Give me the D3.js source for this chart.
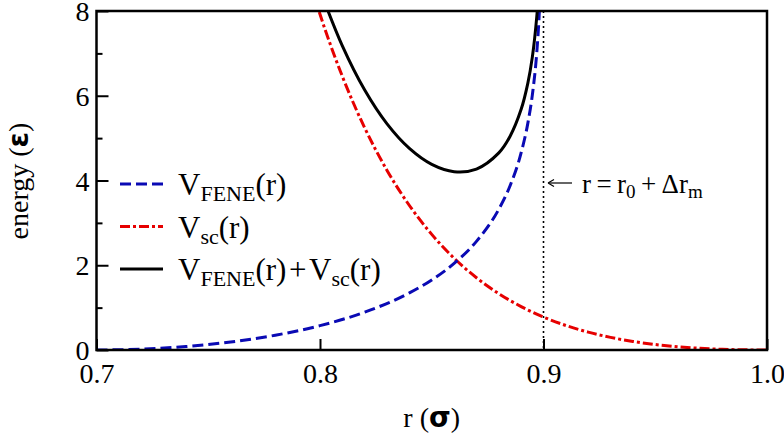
<!DOCTYPE html>
<html><head><meta charset="utf-8">
<script src="https://cdn.jsdelivr.net/npm/d3@7"></script>
<style>
body{margin:0;background:#fff;}
</style></head>
<body>
<svg id="chart" width="784" height="435"></svg>
<script>
// ---- data ----
const rFene = [0.70,0.72,0.74,0.76,0.78,0.80,0.82,0.84,0.85,0.86,0.87,0.88,0.885,0.89,0.893,0.895,0.897,0.898,0.8985];
const vFene = [0,0.020,0.082,0.189,0.349,0.575,0.893,1.347,1.653,2.043,2.564,3.322,3.871,4.656,5.354,6.016,7.028,7.834,8.406];
const rSc = [0.79,0.80,0.81,0.82,0.83,0.84,0.85,0.86,0.87,0.88,0.89,0.90,0.91,0.92,0.93,0.94,0.95,0.96,0.97,0.98,0.99,1.00];
const vSc = [9.697,7.922,6.456,5.242,4.238,3.410,2.728,2.166,1.706,1.330,1.025,0.777,0.579,0.422,0.298,0.202,0.130,0.077,0.040,0.017,0.004,0];
const rSum = [0.80,0.81,0.82,0.83,0.84,0.85,0.86,0.87,0.88,0.885,0.89,0.893,0.895,0.897,0.898];
const vSum = [8.497,7.177,6.135,5.336,4.757,4.381,4.209,4.270,4.652,5.040,5.680,6.299,6.911,7.874,8.656];
const xTicks = [0.7,0.8,0.9,1.0];
const xTickLabels = ["0.7","0.8","0.9","1.0"];
const yTicks = [0,2,4,6,8];
const yMinorTicks = [1,3,5,7];
const rMax = 0.9; // r = r0 + Δr_m
const xDomain = [0.7,1.0];
const yDomain = [0,8];

// ---- layout ----
const SERIF = "'Liberation Serif','DejaVu Serif','Noto Serif',serif";
const SANS = "'DejaVu Sans','Liberation Sans',sans-serif";
const svg = d3.select("#chart");
const L = 96.5, R = 767, T = 11, B = 350;
const x = d3.scaleLinear().domain(xDomain).range([L,R]);
const y = d3.scaleLinear().domain(yDomain).range([B,T]);

svg.append("defs").append("clipPath").attr("id","clip")
  .append("rect").attr("x",L).attr("y",T).attr("width",R-L).attr("height",B-T);

const blue = "#0a0ab4", red = "#e60000";

const g = svg.append("g").attr("clip-path","url(#clip)");
const line = (curve)=>d3.line().x(d=>x(d[0])).y(d=>y(d[1])).curve(curve);

g.append("line").attr("x1",x(rMax)).attr("x2",x(rMax)).attr("y1",T).attr("y2",B)
  .attr("stroke","#000").attr("stroke-width",1.6).attr("stroke-dasharray","2,3");

g.append("path").datum(rSc.map((r,i)=>[r,vSc[i]]))
  .attr("d",line(d3.curveMonotoneX)).attr("fill","none")
  .attr("stroke",red).attr("stroke-width",3).attr("stroke-dasharray","10,3,3,3");

g.append("path").datum(rFene.map((r,i)=>[r,vFene[i]]))
  .attr("d",line(d3.curveMonotoneX)).attr("fill","none")
  .attr("stroke",blue).attr("stroke-width",3).attr("stroke-dasharray","11,5");

g.append("path").datum(rSum.map((r,i)=>[r,vSum[i]]))
  .attr("d",line(d3.curveCatmullRom.alpha(0.5))).attr("fill","none")
  .attr("stroke","#000").attr("stroke-width",3);

// axes
const fs = 28;
const xAxis = svg.append("g").attr("transform",`translate(0,${B})`)
  .call(d3.axisBottom(x).tickValues(xTicks).tickFormat((d,i)=>xTickLabels[i]).tickSize(-11).tickPadding(0));
xAxis.attr("font-family",SERIF).attr("font-size",fs);
xAxis.select(".domain").remove();
xAxis.selectAll(".tick line").attr("stroke","#000").attr("stroke-width",2);
xAxis.selectAll(".tick text").attr("dy",null).attr("y",33).attr("fill","#000");

const yAxis = svg.append("g").attr("transform",`translate(${L},0)`)
  .call(d3.axisLeft(y).tickValues(yTicks).tickSize(-12).tickPadding(7));
yAxis.attr("font-family",SERIF).attr("font-size",fs);
yAxis.select(".domain").remove();
yAxis.selectAll(".tick line").attr("stroke","#000").attr("stroke-width",2);
yAxis.selectAll(".tick text").attr("dy","0.34em").attr("fill","#000");

const yMinor = svg.append("g").attr("transform",`translate(${L},0)`)
  .call(d3.axisLeft(y).tickValues(yMinorTicks).tickSize(-6).tickFormat(""));
yMinor.select(".domain").remove();
yMinor.selectAll(".tick line").attr("stroke","#000").attr("stroke-width",2);

svg.append("rect").attr("x",L).attr("y",T).attr("width",R-L).attr("height",B-T)
  .attr("fill","none").attr("stroke","#000").attr("stroke-width",2.5);

// axis labels
const xl = svg.append("text").attr("x",(L+R)/2).attr("y",427).attr("text-anchor","middle")
  .attr("font-size",fs).attr("font-family",SERIF);
xl.append("tspan").text("r (");
xl.append("tspan").text("σ").attr("font-family",SANS).attr("font-weight","bold");
xl.append("tspan").text(")");

const yl = svg.append("text").attr("transform","translate(28,181) rotate(-90)").attr("text-anchor","middle")
  .attr("font-size",fs).attr("font-family",SERIF);
yl.append("tspan").text("energy (");
yl.append("tspan").text("ε").attr("font-family",SANS).attr("font-weight","bold");
yl.append("tspan").text(")");

// legend
const legend = [
  {parts:[["V",0],["FENE",1],["(r)",0]], color:blue, dash:"11,5"},
  {parts:[["V",0],["sc",1],["(r)",0]], color:red, dash:"10,3,3,3"},
  {parts:[["V",0],["FENE",1],["(r)\u200A+\u200AV",0],["sc",1],["(r)",0]], color:"#000", dash:null}
];
legend.forEach((d,i)=>{
  const yy = 184 + i*42.5;
  svg.append("line").attr("x1",120).attr("x2",163).attr("y1",yy).attr("y2",yy)
    .attr("stroke",d.color).attr("stroke-width",3).attr("stroke-dasharray",d.dash);
  const t = svg.append("text").attr("x",178).attr("y",yy+11).attr("font-size",31).attr("font-family",SERIF);
  let prevSub = false;
  d.parts.forEach(p=>{
    const sp = t.append("tspan").text(p[0]);
    if(p[1]){ sp.attr("font-size",22).attr("dy",6); prevSub = true; }
    else { sp.attr("dy", prevSub ? -6 : 0); prevSub = false; }
  });
});

// annotation
svg.append("line").attr("x1",549).attr("x2",572).attr("y1",183).attr("y2",183).attr("stroke","#000").attr("stroke-width",1.2);
svg.append("path").attr("d","M548,183 l6,-3.5 M548,183 l6,3.5").attr("stroke","#000").attr("stroke-width",1.2).attr("fill","none");
const an = svg.append("text").attr("x",582).attr("y",193).attr("font-size",27).attr("font-family",SERIF);
an.append("tspan").text("r\u2009=\u2009r");
an.append("tspan").text("0").attr("font-size",19).attr("dy",5);
an.append("tspan").text("\u2009+\u2009Δr").attr("dy",-5);
an.append("tspan").text("m").attr("font-size",19).attr("dy",5);
</script>
</body></html>
